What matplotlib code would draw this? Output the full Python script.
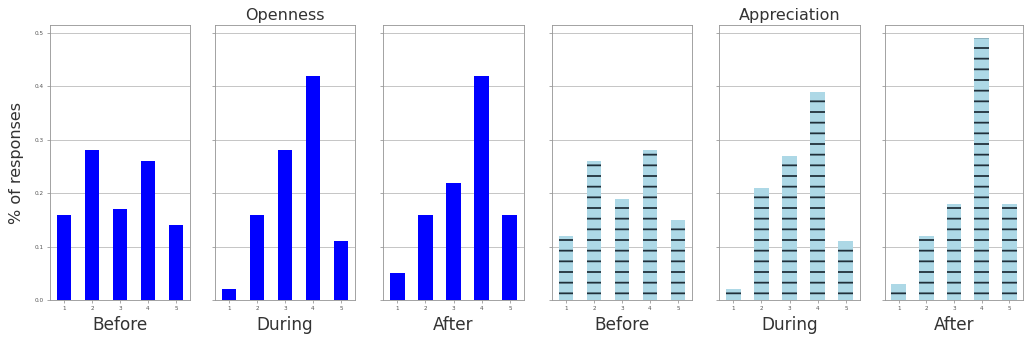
import matplotlib
matplotlib.use("Agg")
import matplotlib.pyplot as plt

ratings = [1, 2, 3, 4, 5]
phases = ["Before", "During", "After"]

openness_before = [0.16, 0.28, 0.17, 0.26, 0.14]
openness_during = [0.02, 0.16, 0.28, 0.42, 0.11]
openness_after = [0.05, 0.16, 0.22, 0.42, 0.16]

appreciation_before = [0.12, 0.26, 0.19, 0.28, 0.15]
appreciation_during = [0.02, 0.21, 0.27, 0.39, 0.11]
appreciation_after = [0.03, 0.12, 0.18, 0.49, 0.18]

yticks = [0.0, 0.1, 0.2, 0.3, 0.4, 0.5]

DPI = 64
W, H = 1032, 345
plt.rcParams["hatch.linewidth"] = 2.0
plt.rcParams["hatch.color"] = "#1f2f3a"

fig = plt.figure(figsize=(W / DPI, H / DPI), dpi=DPI)

# pixel extents (left, right) of the six panels
extents = [(50, 190), (215, 355), (383, 524), (552, 692), (719, 860), (885, 1023)]
top_px, bottom_px = 25, 300

panels = [
    (openness_before, "blue", None),
    (openness_during, "blue", None),
    (openness_after, "blue", None),
    (appreciation_before, "lightblue", "-"),
    (appreciation_during, "lightblue", "-"),
    (appreciation_after, "lightblue", "-"),
]

axes = []
for i, ((l, r), (vals, color, hatch)) in enumerate(zip(extents, panels)):
    ax = fig.add_axes([l / W, 1 - bottom_px / H, (r - l) / W, (bottom_px - top_px) / H])
    ax.set_axisbelow(True)
    ax.yaxis.grid(True, color="#c0c0c0", linewidth=1.0)
    if hatch:
        ax.bar(ratings, vals, width=0.53, color=color, hatch=hatch, linewidth=0)
    else:
        ax.bar(ratings, vals, width=0.53, color=color, linewidth=0)
    ax.set_xlim(0.5, 5.5)
    ax.set_ylim(0, 0.515)
    ax.set_yticks(yticks)
    ax.set_xticks(ratings)
    ax.set_xticklabels([str(v) for v in ratings], fontsize=6.5, color="#555555")
    if i == 0:
        ax.set_yticklabels(["0.0", "0.1", "0.2", "0.3", "0.4", "0.5"], fontsize=6.5, color="#555555")
        ax.set_ylabel("% of responses", fontsize=18, color="#333333", labelpad=12)
    else:
        ax.set_yticklabels([])
    ax.tick_params(axis="both", length=3, width=0.8, color="#888888", pad=4)
    for sp in ax.spines.values():
        sp.set_color("#999999")
        sp.set_linewidth(1.0)
    ax.set_xlabel(phases[i % 3], fontsize=19, color="#333333", labelpad=5)
    axes.append(ax)

axes[1].set_title("Openness", fontsize=18, color="#333333", pad=6)
axes[4].set_title("Appreciation", fontsize=18, color="#333333", pad=6)

fig.savefig("out.png", dpi=DPI)
